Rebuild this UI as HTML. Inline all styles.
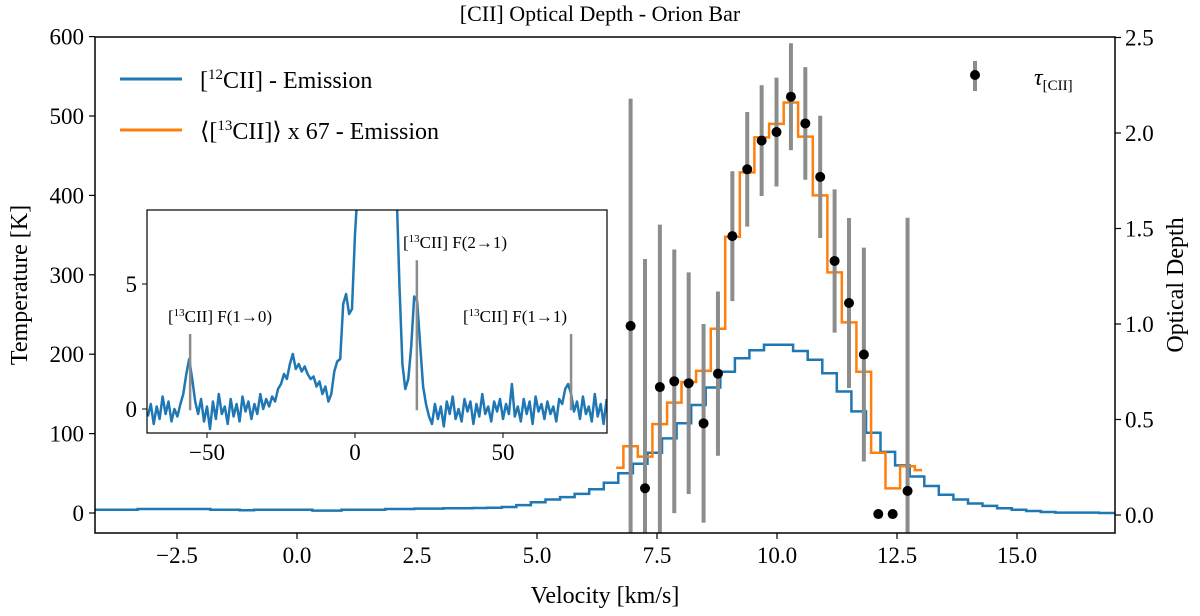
<!DOCTYPE html>
<html><head><meta charset="utf-8"><style>
html,body{margin:0;padding:0;background:#fff;width:1200px;height:616px;overflow:hidden;}
svg{display:block;font-family:"Liberation Serif","DejaVu Serif",serif;}
</style></head><body>
<svg id="chart" width="1200" height="616" viewBox="0 0 1200 616" xmlns="http://www.w3.org/2000/svg">
<defs>
<clipPath id="mainClip"><rect x="95" y="37" width="1020" height="496"/></clipPath>
<clipPath id="insetClip"><rect x="147" y="210" width="460" height="223"/></clipPath>
</defs>
<text x="600" y="21" font-size="22" text-anchor="middle">[CII] Optical Depth - Orion Bar</text>
<text transform="translate(27,285) rotate(-90)" font-size="24" text-anchor="middle">Temperature [K]</text>
<text transform="translate(1183,285) rotate(-90)" font-size="24" text-anchor="middle">Optical Depth</text>
<text x="605" y="603" font-size="24" text-anchor="middle">Velocity [km/s]</text>
<g id="main"></g>
<g id="inset"></g>
<g id="legend">
<line x1="120" y1="79" x2="182" y2="79" stroke="#1f77b4" stroke-width="3"/>
<text x="200" y="88" font-size="24">[<tspan font-size="15" dy="-9">12</tspan><tspan dy="9">CII] - Emission</tspan></text>
<line x1="120" y1="130" x2="182" y2="130" stroke="#ff7f0e" stroke-width="3"/>
<text x="200" y="139" font-size="24">⟨[<tspan font-size="15" dy="-9">13</tspan><tspan dy="9">CII]⟩ x 67 - Emission</tspan></text>
<line x1="975" y1="61" x2="975" y2="91" stroke="#8c8c8c" stroke-width="4"/>
<circle cx="975" cy="75" r="5" fill="#000"/>
<text x="1034" y="85" font-size="24" font-style="italic">τ<tspan font-size="15" font-style="normal" dy="5">[CII]</tspan></text>
</g>
</svg>
<script>
// ---- main chart data ----
const blueStart = 6.846;
const blueWidth = 0.3035;
const blueFirstK = -36;
const blueTemp = [4,4,4, 5,5,5,5,5, 4,4,3.5,4,4,4,4, 3,3, 4,4,4, 5,5,5.5,5.5,6,6, 6.3,6.5,
  7.6,10,13.5,17,20,24,30,38,
  50,62,76,94,113,136,158,178,195,205,212,212,204,193,176,153,128,101,77,60,46,34,
  23,17,12,9,6,4,2.5,1.3,0.5,0.5,0.5,0];
const orangeVel = [6.65,6.95,7.25,7.56,7.86,8.16,8.47,8.77,9.07,9.38,9.68,9.99,10.29,10.59,10.90,11.20,11.50,11.81,12.11,12.41,12.72,13.02];
const orangeTemp = [57,84,71,112,139,165,179,232,348,429,473,490,517,474,400,303,240,178,76,31,59,54];
const tauVel = [6.95,7.25,7.56,7.86,8.16,8.47,8.77,9.07,9.38,9.68,9.99,10.29,10.59,10.90,11.20,11.50,11.81,12.11,12.41,12.72];
const tauVal = [0.99,0.14,0.67,0.70,0.69,0.48,0.74,1.46,1.81,1.96,2.005,2.19,2.05,1.77,1.33,1.11,0.84,0.005,0.005,0.126];
const tauErr = [1.19,1.2,0.85,0.69,0.58,0.52,0.43,0.34,0.30,0.29,0.285,0.28,0.295,0.32,0.375,0.445,0.56,0,0,1.43];
const xTicks = [-2.5,0,2.5,5,7.5,10,12.5,15];
const xTickLabels = ["−2.5","0.0","2.5","5.0","7.5","10.0","12.5","15.0"];
const yTicks = [0,100,200,300,400,500,600];
const y2Ticks = [0,0.5,1,1.5,2,2.5];
const y2TickLabels = ["0.0","0.5","1.0","1.5","2.0","2.5"];
// ---- inset data ----
const insetStart = -70;
const insetVals = [-0.3,0.2,-0.6,0.1,-0.4,0.5,-0.2,0.3,-0.5,0.0,-0.3,
 0.2,0.6,1.4,2.0,1.2,0.3,-0.2,
 0.4,-0.5,0.1,-0.8,0.3,-0.4,0.6,-0.2,0.1,-0.6,0.4,-0.3,0.2,-0.5,0.5,-0.1,0.3,-0.4,0.2,-0.2,0.6,0.0,0.4,
 0.1,0.5,0.3,0.8,1.0,1.4,1.2,1.8,2.2,1.6,1.8,1.5,1.7,1.4,
 1.2,1.3,0.9,1.1,0.6,0.9,0.3,0.6,1.5,1.9,
 2.0,4.2,4.6,3.8,4.0,
 7.0,9.0,12,20,50,100,200,300,300,200,100,50,25,14,9,5.0,
 1.8,0.8,1.2,2.5,4.5,4.3,2.6,0.9,0.2,-0.3,
 -0.6,0.2,-0.4,0.1,-0.7,0.3,-0.2,0.5,-0.4,0.0,-0.5,0.4,-0.1,0.3,-0.6,0.2,-0.3,0.6,-0.2,0.1,-0.5,0.3,-0.1,0.4,-0.4,0.2,-0.2,1.0,-0.3,0.1,-0.5,0.4,-0.2,0.3,-0.6,0.5,-0.1,0.2,-0.4,0.3,
 -0.2,0.1,-0.5,0.4,0.2,0.8,1.0,0.6,-0.1,0.3,-0.4,0.5,-0.2,0.1,-0.5,0.6,-0.3,0.2,-0.6,0.4];
const lineVel = [-55.7,20.9,73];
const lineTop = [3.0,5.95,3.0];
const insetXTicks = [-50,0,50];
const insetXTickLabels = ["−50","0","50"];
const insetYTicks = [0,5];

const NS="http://www.w3.org/2000/svg";
function mk(parent,tag,attrs){const e=document.createElementNS(NS,tag);for(const k in attrs)e.setAttribute(k,attrs[k]);parent.appendChild(e);return e;}
const X=v=>777+(v-10)*48;
const YT=t=>513-t*0.794;
const YO=t=>515-t*191;
const IX=v=>355+v*2.96;
const IY=v=>409-v*25;

const main=document.getElementById('main');
const mg=mk(main,'g',{'clip-path':'url(#mainClip)'});


function stepPath(xs,ys,ext){let d='';const n=xs.length;
 for(let i=0;i<n;i++){const l=i==0?(ext?90:xs[0]):(xs[i-1]+xs[i])/2;const r=i==n-1?(ext?1120:xs[n-1]):(xs[i]+xs[i+1])/2;
  d+=(i==0?'M':'L')+l.toFixed(1)+','+ys[i].toFixed(1)+'L'+r.toFixed(1)+','+ys[i].toFixed(1);}return d;}
const bx=blueTemp.map((t,i)=>X(blueStart+(blueFirstK+i)*blueWidth));
const bp=mk(mg,'path',{d:stepPath(bx,blueTemp.map(YT),true),fill:'none',stroke:'#1f77b4','stroke-width':2.5});


const op=mk(mg,'path',{d:stepPath(orangeVel.map(X),orangeTemp.map(YT),false),fill:'none',stroke:'#ff7f0e','stroke-width':2.5});


tauVal.forEach((t,i)=>{
 if(tauErr[i]>0){const eb=mk(mg,'line',{x1:X(tauVel[i]),x2:X(tauVel[i]),y1:YO(t+tauErr[i]),y2:YO(t-tauErr[i]),stroke:'#8c8c8c','stroke-width':4});
  
  }
});
tauVal.forEach((t,i)=>{
 const c=mk(mg,'circle',{cx:X(tauVel[i]),cy:YO(t),r:5,fill:'#000'});
 
 
});
const fr=mk(main,'rect',{x:95,y:37,width:1020,height:496,fill:'none',stroke:'#000','stroke-width':1.5});


xTicks.forEach((v,i)=>{
 const tl=mk(main,'line',{x1:X(v),x2:X(v),y1:533,y2:539,stroke:'#000','stroke-width':1.2});
 
 
 const tx=mk(main,'text',{x:X(v),y:563,'font-size':23,'text-anchor':'middle'});tx.textContent=xTickLabels[i];
 
 
});
yTicks.forEach(v=>{
 const tl=mk(main,'line',{x1:89,x2:95,y1:YT(v),y2:YT(v),stroke:'#000','stroke-width':1.2});
 
 
 const tx=mk(main,'text',{x:84,y:YT(v)+8,'font-size':23,'text-anchor':'end'});tx.textContent=v;
 
 
});
y2Ticks.forEach((v,i)=>{
 const tl=mk(main,'line',{x1:1115,x2:1121,y1:YO(v),y2:YO(v),stroke:'#000','stroke-width':1.2});
 
 
 const tx=mk(main,'text',{x:1125,y:YO(v)+8,'font-size':23});tx.textContent=y2TickLabels[i];
 
 
});

// inset
const inset=document.getElementById('inset');
const bg=mk(inset,'rect',{x:147,y:210,width:460,height:223,fill:'#fff'});


const ig=mk(inset,'g',{'clip-path':'url(#insetClip)'});


let idp='';
insetVals.forEach((v,i)=>{idp+=(i==0?'M':'L')+IX(insetStart+i).toFixed(1)+','+IY(v).toFixed(1);});
const ip=mk(ig,'path',{d:idp,fill:'none',stroke:'#1f77b4','stroke-width':2.5,'stroke-linejoin':'round'});


lineVel.forEach((v,i)=>{
 const l=mk(ig,'line',{x1:IX(v),x2:IX(v),y1:IY(lineTop[i]),y2:IY(-0.05),stroke:'#8c8c8c','stroke-width':2.5});
 
 
});
const ifr=mk(inset,'rect',{x:147,y:210,width:460,height:223,fill:'none',stroke:'#000','stroke-width':1.2});


insetXTicks.forEach((v,i)=>{
 const tl=mk(inset,'line',{x1:IX(v),x2:IX(v),y1:433,y2:438,stroke:'#000'});
 
 
 const tx=mk(inset,'text',{x:IX(v),y:460,'font-size':23,'text-anchor':'middle'});tx.textContent=insetXTickLabels[i];
 
 
});
insetYTicks.forEach(v=>{
 const tl=mk(inset,'line',{x1:142,x2:147,y1:IY(v),y2:IY(v),stroke:'#000'});
 
 
 const tx=mk(inset,'text',{x:137,y:IY(v)+8,'font-size':23,'text-anchor':'end'});tx.textContent=v;
 
 
});
function lbl(x,y,tr,name){const t=mk(inset,'text',{x:x,y:y,'font-size':17});
 
 
 t.innerHTML='[<tspan font-size="11" dy="-6">13</tspan><tspan dy="6">CII] F('+tr+')</tspan>';}
lbl(168,322,'1→0','label-f10');
lbl(403,248,'2→1','label-f21');
lbl(463,322,'1→1','label-f11');
</script>
</body></html>
